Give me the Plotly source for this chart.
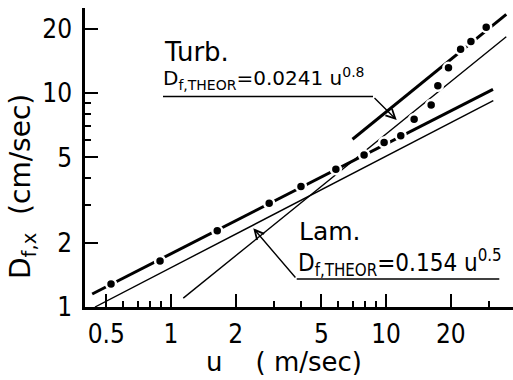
import plotly.graph_objects as go

# ---- data ----
u_pts = [0.526, 0.889, 1.64, 2.86, 4.02, 5.84, 7.90, 9.79, 11.7, 13.5, 16.2, 17.4, 19.5, 22.2, 24.8, 29.2]
D_pts = [1.28, 1.64, 2.27, 3.05, 3.66, 4.40, 5.13, 5.87, 6.31, 7.54, 8.79, 10.8, 13.1, 16.0, 17.4, 20.3]

lam_exp_u = [0.43, 31.4]
lam_exp_D = [1.15, 10.4]
turb_exp_u = [6.98, 36.2]
turb_exp_D = [6.08, 23.3]
lam_theor_u = [0.443, 31.5]
lam_theor_D = [1.00, 9.2]
turb_theor_u = [1.14, 36.2]
turb_theor_D = [1.10, 18.3]

x_major = [0.5, 1, 2, 5, 10, 20]
x_major_text = ["0.5", "1", "2", "5", "10", "20"]
x_minor = [0.6, 0.7, 0.8, 0.9, 3, 4, 6, 7, 8, 9, 30]
y_major = [1, 2, 5, 10, 20]
y_major_text = ["1", "2", "5", "10", "20"]
y_minor = [3, 4, 6, 7, 8, 9]

W, H = 513, 380
L, R, T, B = 85, 0, 8, 73
pw, ph = W - L - R, H - T - B


def px(x):
    return (x - L) / pw


def py(y):
    return (H - B - y) / ph


fig = go.Figure()

thin = dict(color="black", width=1.4)
thick = dict(color="black", width=3)

fig.add_trace(go.Scatter(x=lam_theor_u, y=lam_theor_D, mode="lines", line=thin, hoverinfo="skip"))
fig.add_trace(go.Scatter(x=turb_theor_u, y=turb_theor_D, mode="lines", line=thin, hoverinfo="skip"))
fig.add_trace(go.Scatter(x=lam_exp_u, y=lam_exp_D, mode="lines", line=thick, hoverinfo="skip"))
fig.add_trace(go.Scatter(x=turb_exp_u, y=turb_exp_D, mode="lines", line=thick, hoverinfo="skip"))
fig.add_trace(go.Scatter(
    x=u_pts, y=D_pts, mode="markers",
    marker=dict(color="black", size=10, line=dict(color="white", width=2.5)),
))

nb = "\u00a0"

annotations = [
    dict(text="Turb.", x=px(162), y=py(52), xanchor="left", yanchor="middle",
         font=dict(family="DejaVu Sans", size=26, color="black")),
    dict(text="D<sub>f,THEOR</sub>=0.0241" + nb + "u<sup>0.8</sup>", x=px(161), y=py(79),
         xanchor="left", yanchor="middle",
         font=dict(family="DejaVu Sans", size=20, color="black")),
    dict(text="Lam.", x=px(297), y=py(232), xanchor="left", yanchor="middle",
         font=dict(family="DejaVu Sans", size=25, color="black")),
    dict(text="D<sub>f,THEOR</sub>=" + "0.154" + nb + "u<sup>0.5</sup>", x=px(296), y=py(262),
         xanchor="left", yanchor="middle",
         font=dict(family="DejaVu Sans Condensed", size=24, color="black")),
    # leader arrows
    dict(text="", x=px(396.7), y=py(120), ax=373 - 396.7, ay=96.5 - 120,
         showarrow=True, arrowhead=5, arrowsize=1.3, arrowwidth=1.4, arrowcolor="black"),
    dict(text="", x=px(253.3), y=py(228.3), ax=296.7 - 253.3, ay=279 - 228.3,
         showarrow=True, arrowhead=5, arrowsize=1.3, arrowwidth=1.4, arrowcolor="black"),
    # axis titles
    dict(text="D<sub>f,x</sub>" + nb * 2 + "(cm/sec)", textangle=-90, x=px(22), y=py(187),
         xanchor="center", yanchor="middle",
         font=dict(family="DejaVu Sans", size=28, color="black")),
    dict(text="u" + nb * 4 + "(" + nb + "m/sec)", x=px(284), y=py(362),
         xanchor="center", yanchor="middle", font=dict(family="DejaVu Sans", size=26, color="black")),
]
for a in annotations:
    a.setdefault("showarrow", False)
    a["xref"] = "paper"
    a["yref"] = "paper"

shapes = [
    dict(type="line", xref="paper", yref="paper", x0=px(163), x1=px(373), y0=py(96.5), y1=py(96.5),
         line=dict(color="black", width=1.4)),
    dict(type="line", xref="paper", yref="paper", x0=px(296.7), x1=px(499.3), y0=py(279), y1=py(279),
         line=dict(color="black", width=1.4)),
]

tick_font = dict(family="DejaVu Sans Condensed", size=26, color="black")

fig.update_layout(
    width=W, height=H,
    margin=dict(l=L, r=R, t=T, b=B),
    paper_bgcolor="white", plot_bgcolor="white",
    showlegend=False,
    annotations=annotations,
    shapes=shapes,
    xaxis=dict(
        type="log", range=[-0.4, 1.59], showgrid=False, zeroline=False,
        showline=True, linecolor="black", linewidth=2.5,
        tickmode="array", tickvals=x_major, ticktext=x_major_text,
        ticks="inside", ticklen=13, tickwidth=2, tickcolor="black",
        tickfont=tick_font, ticklabelstandoff=2,
        minor=dict(tickvals=x_minor, ticks="inside", ticklen=6, tickwidth=2, tickcolor="black", showgrid=False),
    ),
    yaxis=dict(
        type="log", range=[0, 1.397], showgrid=False, zeroline=False,
        showline=True, linecolor="black", linewidth=2.5,
        tickmode="array", tickvals=y_major, ticktext=y_major_text,
        ticks="inside", ticklen=13, tickwidth=2, tickcolor="black",
        tickfont=tick_font, ticklabelstandoff=5,
        minor=dict(tickvals=y_minor, ticks="inside", ticklen=6, tickwidth=2, tickcolor="black", showgrid=False),
    ),
)

fig.write_html("out.html")
